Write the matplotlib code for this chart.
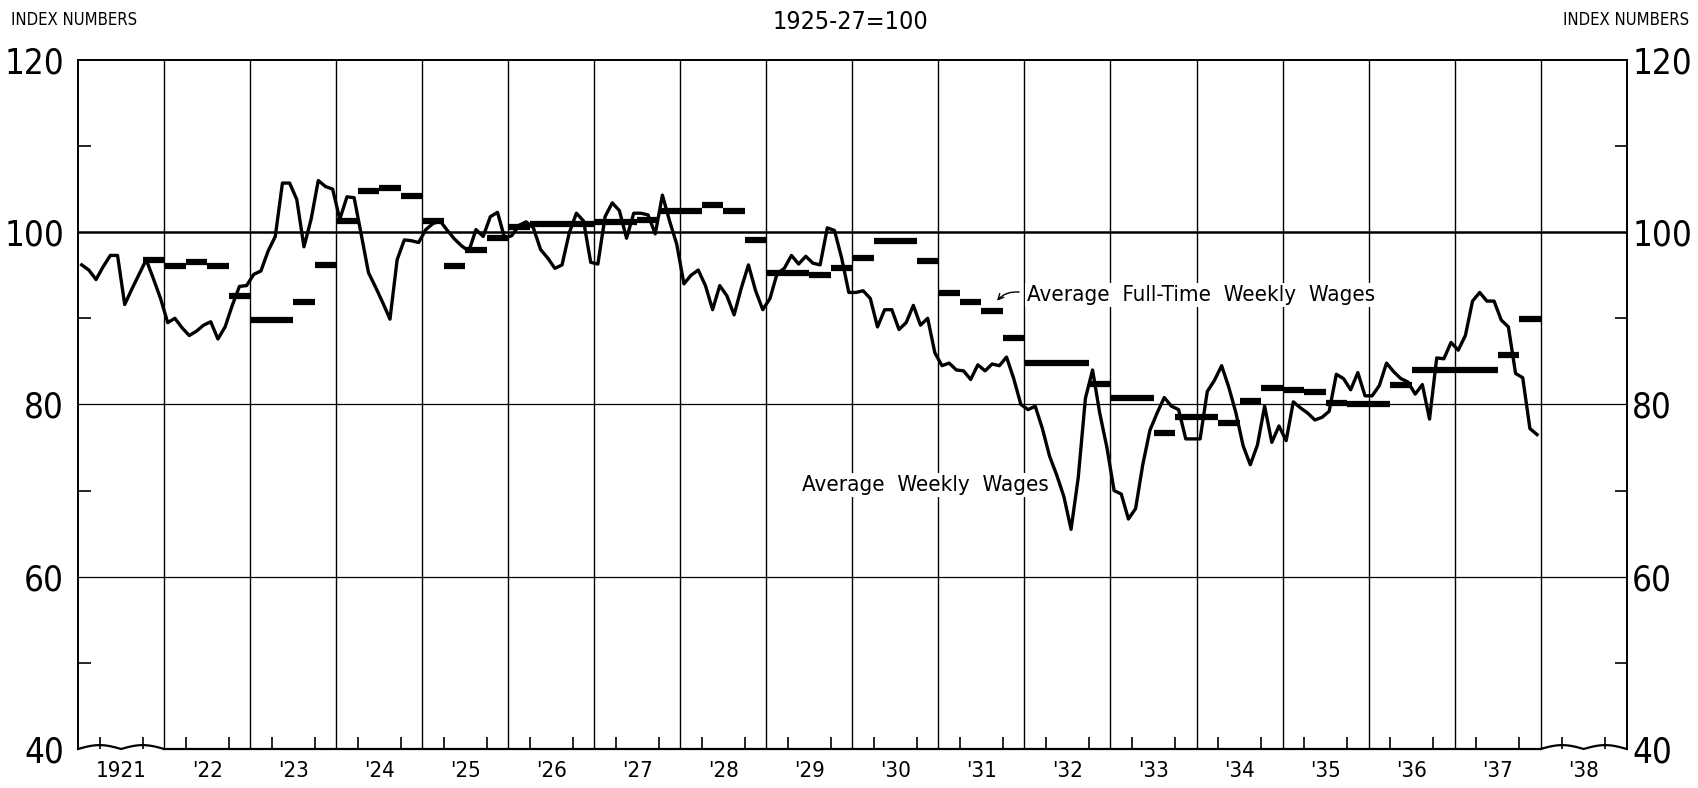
import numpy as np
import matplotlib.pyplot as plt

plt.rcParams['font.family'] = ['DejaVu Sans']
plt.rcParams['font.stretch'] = 'condensed'

# Average weekly wages, monthly index (1925-27 = 100), Jan 1921 .. Dec 1937
weekly_wages = [
    96.2, 95.6, 94.5, 96.0, 97.3, 97.3, 91.6, 93.4, 95.1, 96.8, 94.6, 92.3,    # 1921
    89.5, 90.0, 88.9, 88.0, 88.5, 89.2, 89.6, 87.6, 89.0, 91.5, 93.7, 93.8,    # 1922
    95.1, 95.5, 97.8, 99.5, 105.7, 105.7, 103.8, 98.3, 101.5, 106.0, 105.3, 105.0,  # 1923
    101.5, 104.1, 104.0, 99.7, 95.3, 93.6, 91.8, 89.9, 96.8, 99.1, 99.0, 98.8,  # 1924
    100.3, 101.0, 101.3, 100.2, 99.2, 98.4, 97.8, 100.3, 99.5, 101.8, 102.3, 99.3,  # 1925
    99.6, 100.8, 101.2, 100.5, 98.0, 97.0, 95.8, 96.2, 99.9, 102.2, 101.3, 96.5,  # 1926
    96.3, 101.8, 103.4, 102.5, 99.3, 102.2, 102.2, 102.0, 99.8, 104.3, 101.3, 98.6,  # 1927
    94.0, 95.0, 95.6, 93.8, 91.0, 93.8, 92.6, 90.4, 93.5, 96.2, 93.2, 91.0,    # 1928
    92.3, 95.2, 95.8, 97.3, 96.3, 97.2, 96.4, 96.2, 100.5, 100.2, 97.0, 93.0,  # 1929
    93.0, 93.2, 92.3, 89.0, 91.0, 91.0, 88.7, 89.5, 91.5, 89.2, 90.0, 86.0,    # 1930
    84.5, 84.8, 84.0, 83.9, 82.9, 84.6, 83.9, 84.7, 84.5, 85.5, 83.0, 80.0,    # 1931
    79.4, 79.8, 77.2, 74.0, 71.8, 69.3, 65.5, 71.5, 80.7, 84.0, 79.0, 75.0,    # 1932
    70.0, 69.6, 66.7, 67.9, 73.0, 77.0, 79.0, 80.8, 79.8, 79.4, 76.0, 76.0,    # 1933
    76.0, 81.5, 82.8, 84.5, 82.0, 79.0, 75.2, 73.0, 75.3, 79.8, 75.6, 77.5,    # 1934
    75.8, 80.3, 79.6, 79.0, 78.2, 78.5, 79.2, 83.5, 83.0, 81.7, 83.7, 81.0,    # 1935
    81.0, 82.2, 84.8, 83.8, 83.0, 82.6, 81.2, 82.3, 78.3, 85.4, 85.3, 87.2,    # 1936
    86.3, 88.0, 92.0, 93.0, 92.0, 92.0, 89.8, 89.0, 83.6, 83.1, 77.2, 76.5,    # 1937
]

# Average full-time weekly wages, quarterly, Q1 1921 .. Q4 1937
full_time_wages = [
    np.nan, np.nan, np.nan, 96.8,   # 1921
    96.1, 96.5, 96.1, 92.6,         # 1922
    89.8, 89.8, 91.9, 96.2,         # 1923
    101.3, 104.8, 105.1, 104.2,     # 1924
    101.3, 96.1, 97.9, 99.3,        # 1925
    100.6, 101.0, 101.0, 101.0,     # 1926
    101.2, 101.2, 101.4, 102.4,     # 1927
    102.4, 103.1, 102.4, 99.1,      # 1928
    95.3, 95.3, 95.0, 95.8,         # 1929
    97.0, 99.0, 99.0, 96.7,         # 1930
    92.9, 91.9, 90.8, 87.7,         # 1931
    84.8, 84.8, 84.8, 82.4,         # 1932
    80.7, 80.7, 76.7, 78.5,         # 1933
    78.5, 77.8, 80.4, 81.9,         # 1934
    81.7, 81.5, 80.2, 80.0,         # 1935
    80.0, 82.3, 84.0, 84.0,         # 1936
    84.0, 84.0, 85.7, 89.9,         # 1937
]

year_labels = ['1921', "'22", "'23", "'24", "'25", "'26", "'27", "'28", "'29",
               "'30", "'31", "'32", "'33", "'34", "'35", "'36", "'37", "'38"]

first_year = 1921
last_year = first_year + len(year_labels)   # 1939, right edge of the grid

months = first_year + (np.arange(len(weekly_wages)) + 0.5) / 12
quarters = first_year + np.arange(len(full_time_wages)) / 4
ft = np.array(full_time_wages)
ok = ~np.isnan(ft)

fig = plt.figure(figsize=(16.98, 7.88), dpi=100)
ax = fig.add_axes([0.0460, 0.0495, 0.9120, 0.8745])
ax.set_xlim(first_year, last_year)
ax.set_ylim(40, 120)

# grid: year lines and horizontal rules
for yr in range(first_year + 1, last_year):
    ax.axvline(yr, color='black', lw=1.0, zorder=1)
for lvl in (60, 80):
    ax.axhline(lvl, color='black', lw=0.9, zorder=1)
ax.axhline(100, color='black', lw=1.8, zorder=1)

# the two series
ax.plot(months, weekly_wages, color='black', lw=2.4, zorder=3)
ax.hlines(ft[ok], quarters[ok], quarters[ok] + 0.25, color='black', lw=4.5, zorder=3)

# bottom edge: straight in the middle, broken (wavy) in first and last column
ax.spines['bottom'].set_visible(False)
ax.plot([first_year + 1, last_year - 1], [40, 40], color='black', lw=1.6, clip_on=False, zorder=2)
for start in (first_year, last_year - 1):
    xs = np.linspace(start, start + 1, 120)
    ys = 40 + 0.45 * np.abs(np.sin(2 * np.pi * (xs - start)))
    ax.plot(xs, ys, color='black', lw=1.6, clip_on=False, zorder=2)

for side in ('left', 'right', 'top'):
    ax.spines[side].set_linewidth(1.4)

# x axis: year labels centred in each column, quarter ticks inside
ax.set_xticks(np.arange(first_year, last_year) + 0.5)
ax.set_xticklabels(year_labels, fontsize=16)
qticks = [first_year + i / 4 for i in range((last_year - first_year) * 4) if i % 4]
ax.set_xticks(qticks, minor=True)
ax.tick_params(axis='x', which='major', length=0, pad=9)
ax.tick_params(axis='x', which='minor', direction='in', length=8.5, width=1.2)

# y axes on both sides
yt = [40, 60, 80, 100, 120]
ax.set_yticks(yt)
ax.set_yticklabels([str(v) for v in yt], fontsize=25)
ax.set_yticks([50, 70, 90, 110], minor=True)
ax.tick_params(axis='y', which='major', length=0, pad=10)
ax.tick_params(axis='y', which='minor', direction='in', length=9, width=1.2)

ax2 = ax.twinx()
ax2.set_ylim(40, 120)
ax2.set_yticks(yt)
ax2.set_yticklabels([str(v) for v in yt], fontsize=25)
ax2.set_yticks([50, 70, 90, 110], minor=True)
ax2.tick_params(axis='y', which='major', length=0, pad=4)
ax2.tick_params(axis='y', which='minor', direction='in', length=9, width=1.2)
for s in ax2.spines.values():
    s.set_visible(False)

# labels on the chart
box = dict(facecolor='white', edgecolor='none', pad=1.5)
ax.text(1932.03, 92.7, 'Average  Full-Time  Weekly  Wages', fontsize=16,
        ha='left', va='center', bbox=box, zorder=4)
ax.annotate('', xy=(1931.66, 91.8), xytext=(1931.97, 93.0),
            arrowprops=dict(arrowstyle='->', color='black', lw=1.0,
                            connectionstyle='arc3,rad=0.3'), zorder=4)
ax.text(1929.41, 70.7, 'Average  Weekly  Wages', fontsize=16,
        ha='left', va='center', bbox=box, zorder=4)

fig.text(0.0065, 0.975, 'INDEX NUMBERS', fontsize=12, ha='left', va='center')
fig.text(0.995, 0.975, 'INDEX NUMBERS', fontsize=12, ha='right', va='center')
fig.text(0.501, 0.972, '1925-27=100', fontsize=18, ha='center', va='center')

fig.savefig('out.png', dpi=100, facecolor='white')
